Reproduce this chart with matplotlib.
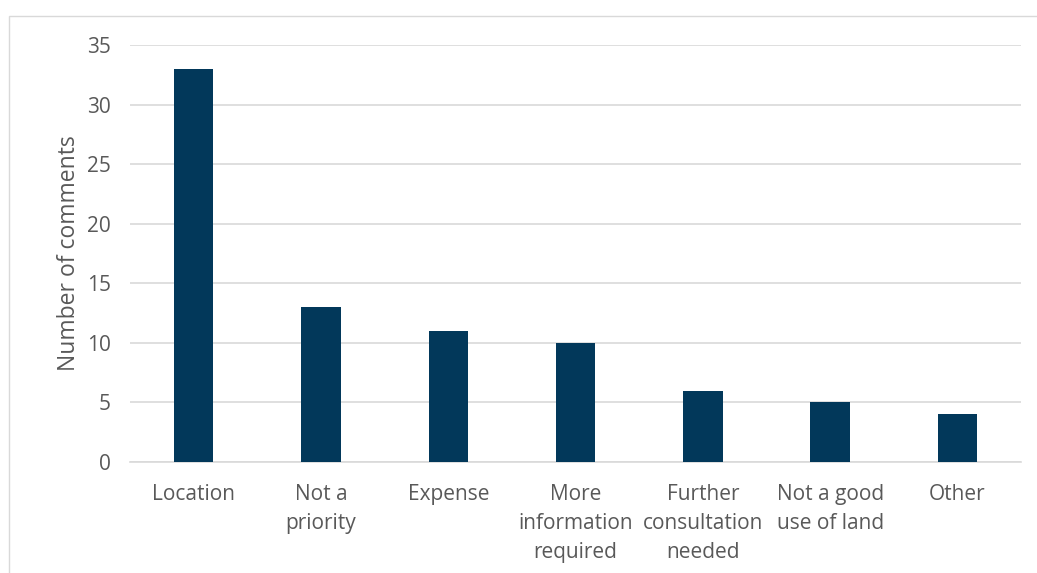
import matplotlib.pyplot as plt
from matplotlib.patches import Rectangle

plt.rcParams['font.family'] = ['Open Sans', 'DejaVu Sans']

categories = ['Location', 'Not a\npriority', 'Expense', 'More\ninformation\nrequired',
              'Further\nconsultation\nneeded', 'Not a good\nuse of land', 'Other']
comments = [33, 13, 11, 10, 6, 5, 4]
yticks = [0, 5, 10, 15, 20, 25, 30, 35]

fig = plt.figure(figsize=(10.37, 5.73), dpi=100)
ax = fig.add_axes([0.1254, 0.1937, 0.8592, 0.7278])

# outer chart border
fig.patches.append(Rectangle((9 / 1037, -0.1), 1.2, 1 - 16 / 573 + 0.1,
                             transform=fig.transFigure, fill=False,
                             edgecolor='#d9d9d9', linewidth=1))

x = range(len(categories))
ax.bar(x, comments, width=0.31, color='#02385a', zorder=3)

ax.set_xlim(-0.5, len(categories) - 0.5)
ax.set_ylim(0, 35)
ax.set_yticks(yticks)
ax.set_xticks(list(x))
ax.set_xticklabels(categories, linespacing=1.5)
ax.grid(axis='y', color='#d9d9d9', linewidth=1.2, zorder=0)
for s in ['top', 'right', 'left']:
    ax.spines[s].set_visible(False)
ax.spines['bottom'].set_color('#d9d9d9')
ax.spines['bottom'].set_linewidth(1.2)
ax.tick_params(length=0, labelsize=15, colors='#595959', pad=16)
ax.tick_params(axis='y', pad=14)
ax.set_ylabel('Number of comments', fontsize=16.5, color='#595959', labelpad=4)

fig.savefig('out.png', dpi=100)
